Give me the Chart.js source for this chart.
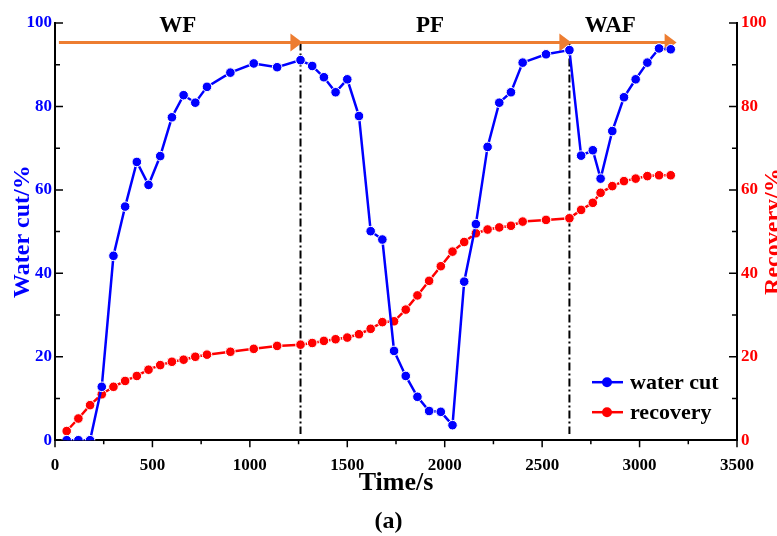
<!DOCTYPE html>
<html lang="en">
<head>
<meta charset="UTF-8">
<title>Water cut and recovery</title>
<script src="https://cdn.jsdelivr.net/npm/chart.js@4.4.1/dist/chart.umd.min.js"></script>
<style>
  body { margin: 0; background: #fff; }
</style>
</head>
<body>
<canvas id="chart" width="777" height="536"></canvas>
<script>
// values (time in s, both series in %)
const times = [60, 120, 180, 240, 300, 360, 420, 480, 540, 600, 660, 720, 780, 900, 1020, 1140, 1260,
  1320, 1380, 1440, 1500, 1560, 1620, 1680, 1740, 1800, 1860, 1920, 1980, 2040, 2100, 2160, 2220, 2280,
  2340, 2400, 2520, 2640, 2700, 2760, 2800, 2860, 2920, 2980, 3040, 3100, 3160];
const waterCut = [0, 0, 0, 12.8, 44.2, 56.0, 66.7, 61.2, 68.1, 77.4, 82.7, 80.9, 84.7, 88.1, 90.3, 89.4, 91.1,
  89.7, 87.0, 83.4, 86.5, 77.7, 50.1, 48.1, 21.4, 15.4, 10.4, 7.0, 6.8, 3.6, 38.0, 51.8, 70.3, 80.9,
  83.4, 90.5, 92.5, 93.5, 68.2, 69.5, 62.7, 74.1, 82.2, 86.5, 90.5, 93.9, 93.7];
const recovery = [2.2, 5.2, 8.4, 11.0, 12.8, 14.2, 15.4, 16.9, 18.0, 18.8, 19.3, 20.0, 20.5, 21.2, 21.9, 22.6, 22.9,
  23.3, 23.8, 24.2, 24.6, 25.4, 26.7, 28.3, 28.5, 31.3, 34.7, 38.2, 41.7, 45.2, 47.5, 49.6, 50.5, 51.0,
  51.4, 52.4, 52.8, 53.2, 55.2, 56.9, 59.3, 60.9, 62.1, 62.7, 63.3, 63.5, 63.5];

// flooding stages: WF -> PF -> WAF
const stageNames = ['WF', 'PF', 'WAF'];
const stageLabelX = [630, 1925, 2850];
const stageStart = [20, 1260, 2640];
const stageEnd = [1270, 2650, 3190];
const stageSwitch = [1260, 2640];
const arrowLevel = 95.3;
const stageLabelLevel = 99.2;

const BLUE = '#0000ff';
const RED = '#ff0000';
const ORANGE = '#ed7d31';
const SERIF = "'Liberation Serif', 'Times New Roman', serif";

Chart.defaults.font.family = SERIF;

const extras = {
  id: 'extras',
  beforeDatasetsDraw(chart) {
    const { ctx, scales: { x, y } } = chart;
    const yArrow = y.getPixelForValue(arrowLevel);
    ctx.save();
    // dash-dot switch lines
    ctx.strokeStyle = '#000';
    ctx.lineWidth = 2;
    ctx.setLineDash([8, 3, 2, 3]);
    stageSwitch.forEach(t => {
      const px = x.getPixelForValue(t);
      ctx.beginPath();
      ctx.moveTo(px, yArrow);
      ctx.lineTo(px, y.getPixelForValue(1.5));
      ctx.stroke();
    });
    ctx.setLineDash([]);
    // stage arrows
    ctx.strokeStyle = ORANGE;
    ctx.fillStyle = ORANGE;
    ctx.lineWidth = 3;
    stageStart.forEach((t, i) => {
      const x0 = x.getPixelForValue(t);
      const x1 = x.getPixelForValue(stageEnd[i]);
      ctx.beginPath();
      ctx.moveTo(x0, yArrow);
      ctx.lineTo(x1 - 10, yArrow);
      ctx.stroke();
      ctx.beginPath();
      ctx.moveTo(x1, yArrow);
      ctx.lineTo(x1 - 12, yArrow - 9);
      ctx.lineTo(x1 - 12, yArrow + 9);
      ctx.closePath();
      ctx.fill();
    });
    // stage names
    ctx.fillStyle = '#000';
    ctx.font = 'bold 23px ' + SERIF;
    ctx.textAlign = 'center';
    ctx.textBaseline = 'middle';
    stageNames.forEach((name, i) => {
      ctx.fillText(name, x.getPixelForValue(stageLabelX[i]), y.getPixelForValue(stageLabelLevel));
    });
    ctx.restore();
  },
  afterDraw(chart) {
    const { ctx, chartArea: area, scales: { x, y } } = chart;
    ctx.save();
    // tick marks: outward on x, inward on both y axes
    ctx.strokeStyle = '#000';
    ctx.lineWidth = 1.5;
    ctx.beginPath();
    for (let v = 0; v <= 3500; v += 250) {
      const px = x.getPixelForValue(v);
      ctx.moveTo(px, area.bottom);
      ctx.lineTo(px, area.bottom + (v % 500 === 0 ? 7 : 4));
    }
    for (let v = 0; v <= 100; v += 10) {
      const py = y.getPixelForValue(v);
      const len = v % 20 === 0 ? 8 : 5;
      ctx.moveTo(area.left, py);
      ctx.lineTo(area.left + len, py);
      ctx.moveTo(area.right, py);
      ctx.lineTo(area.right - len, py);
    }
    ctx.stroke();

    // legend, bottom right inside the plot
    const lx = area.right - 145;
    chart.data.datasets.forEach((ds, i) => {
      const ly = area.bottom - 58 + i * 30;
      ctx.strokeStyle = ds.borderColor;
      ctx.lineWidth = 2.5;
      ctx.beginPath();
      ctx.moveTo(lx, ly);
      ctx.lineTo(lx + 31, ly);
      ctx.stroke();
      ctx.fillStyle = ds.borderColor;
      ctx.beginPath();
      ctx.arc(lx + 15, ly, 5, 0, Math.PI * 2);
      ctx.fill();
      ctx.fillStyle = '#000';
      ctx.font = 'bold 22px ' + SERIF;
      ctx.textAlign = 'left';
      ctx.textBaseline = 'middle';
      ctx.fillText(ds.label, lx + 38, ly + 1);
    });

    // right axis title, reading bottom to top like the left one
    ctx.translate(774, (area.top + area.bottom) / 2);
    ctx.rotate(-Math.PI / 2);
    ctx.fillStyle = RED;
    ctx.font = 'bold 24px ' + SERIF;
    ctx.textAlign = 'center';
    ctx.textBaseline = 'middle';
    ctx.fillText('Recovery/%', 0, 0);
    ctx.restore();
  }
};

const pts = vals => times.map((t, i) => ({ x: t, y: vals[i] }));
const plain = v => String(v);
// markers may spill over the sides but are cut at the x axis
const clipArea = { left: false, top: false, right: false, bottom: 0 };

new Chart(document.getElementById('chart'), {
  type: 'line',
  data: {
    datasets: [
      {
        label: 'water cut',
        data: pts(waterCut),
        borderColor: BLUE,
        backgroundColor: BLUE,
        pointBackgroundColor: BLUE,
        pointBorderColor: '#fff',
        pointBorderWidth: 1,
        pointRadius: 4.8,
        borderWidth: 2.5,
        tension: 0,
        clip: clipArea,
        yAxisID: 'y'
      },
      {
        label: 'recovery',
        data: pts(recovery),
        borderColor: RED,
        backgroundColor: RED,
        pointBackgroundColor: RED,
        pointBorderColor: '#fff',
        pointBorderWidth: 1,
        pointRadius: 4.8,
        borderWidth: 2.5,
        tension: 0,
        clip: clipArea,
        yAxisID: 'y2'
      }
    ]
  },
  options: {
    responsive: false,
    animation: false,
    layout: { padding: { top: 23, left: 0, right: 0, bottom: 0 } },
    plugins: {
      legend: { display: false },
      tooltip: { enabled: false },
      title: {
        display: true,
        position: 'bottom',
        text: '(a)',
        color: '#000',
        font: { size: 24, weight: 'bold' },
        padding: { top: 6, bottom: 0 }
      }
    },
    scales: {
      x: {
        type: 'linear',
        min: 0,
        max: 3500,
        grid: { display: false, drawTicks: false },
        border: { color: '#000', width: 2 },
        ticks: { stepSize: 500, color: '#000', padding: 15, font: { size: 17, weight: 'bold' }, callback: plain },
        title: {
          display: true,
          text: 'Time/s',
          color: '#000',
          font: { size: 26, weight: 'bold' },
          padding: { top: 0, bottom: 2 }
        },
        afterFit: s => { s.height = 61; }
      },
      y: {
        position: 'left',
        min: 0,
        max: 100,
        grid: { display: false, drawTicks: false },
        border: { color: '#000', width: 2 },
        ticks: { stepSize: 20, color: BLUE, padding: 3, font: { size: 17, weight: 'bold' }, callback: plain },
        title: {
          display: true,
          text: 'Water cut/%',
          color: BLUE,
          font: { size: 24, weight: 'bold' },
          padding: { top: 8, bottom: 0 }
        },
        afterFit: s => { s.width = 55; }
      },
      y2: {
        position: 'right',
        min: 0,
        max: 100,
        grid: { display: false, drawTicks: false },
        border: { color: '#000', width: 2 },
        ticks: { stepSize: 20, color: RED, padding: 4, font: { size: 17, weight: 'bold' }, callback: plain },
        afterFit: s => { s.width = 40; }
      }
    }
  },
  plugins: [extras]
});
</script>
</body>
</html>
